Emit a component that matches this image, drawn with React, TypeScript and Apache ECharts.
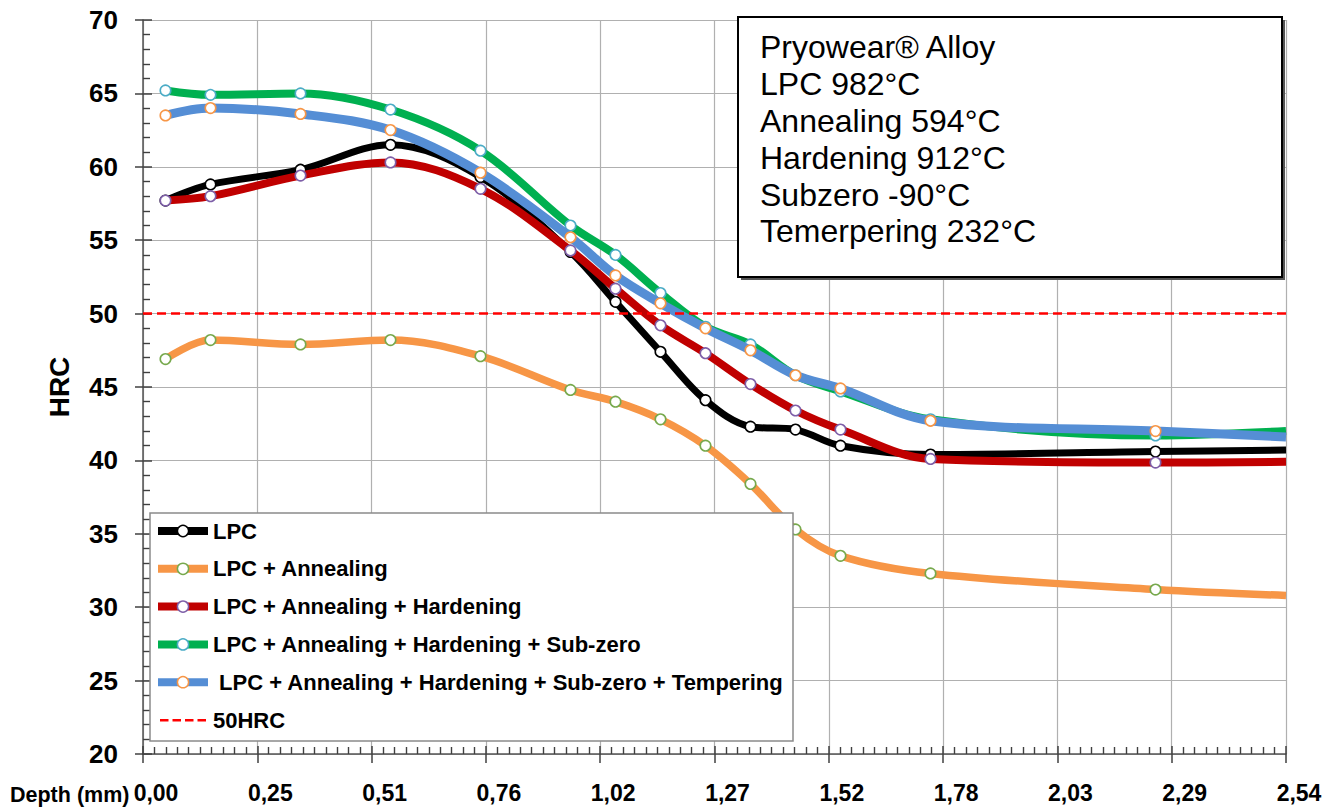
import React, { useEffect, useRef } from "react";
import * as echarts from "echarts";

const depth = [0.05, 0.15, 0.35, 0.55, 0.75, 0.95, 1.05, 1.15, 1.25, 1.35, 1.45, 1.55, 1.75, 2.25, 2.54];
const lpc = [57.7, 58.8, 59.8, 61.5, 59.3, 54.2, 50.8, 47.4, 44.1, 42.3, 42.1, 41.0, 40.4, 40.6, 40.7];
const annealing = [46.9, 48.2, 47.9, 48.2, 47.1, 44.8, 44.0, 42.8, 41.0, 38.4, 35.3, 33.5, 32.3, 31.2, 30.8];
const hardening = [57.7, 58.0, 59.4, 60.3, 58.5, 54.3, 51.7, 49.2, 47.3, 45.2, 43.4, 42.1, 40.1, 39.85, 39.9];
const subzero = [65.2, 64.9, 65.0, 63.9, 61.1, 56.0, 54.0, 51.4, 49.1, 47.9, 45.8, 44.7, 42.8, 41.7, 42.0];
const tempering = [63.5, 64.0, 63.6, 62.5, 59.6, 55.2, 52.6, 50.7, 49.0, 47.5, 45.8, 44.9, 42.7, 42.0, 41.6];
const limitX = [0, 2.54];
const limitY = [50, 50];

const seriesNames = [
  "LPC",
  "LPC + Annealing",
  "LPC + Annealing + Hardening",
  "LPC + Annealing + Hardening + Sub-zero",
  "LPC + Annealing + Hardening + Sub-zero + Tempering",
];
const limitName = "50HRC";
const lineColors = ["#000000", "#F79646", "#C00000", "#00B050", "#558ED5"];
const markerBorders = ["#000000", "#77A94D", "#7E5FA8", "#4BACC6", "#F79646"];
const lineWidths = [7, 7.5, 8, 8, 9];
const allValues = [lpc, annealing, hardening, subzero, tempering];

const annotation = [
  "Pryowear® Alloy",
  "LPC 982°C",
  "Annealing 594°C",
  "Hardening 912°C",
  "Subzero -90°C",
  "Temerpering 232°C",
];

const FONT = "'Liberation Sans', Arial, Helvetica, sans-serif";
const fmtX = (v: number) => v.toFixed(2).replace(".", ",");

export default function App() {
  const ref = useRef<HTMLDivElement>(null);
  useEffect(() => {
    if (!ref.current) return;
    const chart = echarts.init(ref.current, undefined, { renderer: "svg" });

    const series: any[] = allValues.map((vals, si) => ({
      name: seriesNames[si],
      type: "line",
      xAxisIndex: 0,
      yAxisIndex: 0,
      smooth: 0.35,
      symbol: "circle",
      symbolSize: 10.5,
      silent: true,
      z: 2 + si * 0.1,
      lineStyle: { color: lineColors[si], width: lineWidths[si] },
      itemStyle: { color: "#ffffff", borderColor: markerBorders[si], borderWidth: 1.6 },
      data: depth.map((d, i) =>
        i === depth.length - 1 ? { value: [d, vals[i]], symbol: "none" } : [d, vals[i]]
      ),
    }));
    series.push({
      name: limitName,
      type: "line",
      xAxisIndex: 0,
      yAxisIndex: 0,
      symbol: "none",
      silent: true,
      z: 3,
      lineStyle: { color: "#FF0000", width: 2.5, type: [9, 5] },
      itemStyle: { color: "#FF0000" },
      data: limitX.map((x, i) => [x, limitY[i]]),
    });

    const legendData: any[] = seriesNames.map((n, si) => ({
      name: n,
      itemStyle: { color: "#ffffff", borderColor: markerBorders[si], borderWidth: 1.5 },
      lineStyle: { color: lineColors[si], width: 8 },
    }));
    legendData.push({
      name: limitName,
      icon: "path://M0,0 M50,14 M2,6h8.5v2.6h-8.5z M14.5,6h8.5v2.6h-8.5z M27,6h8.5v2.6h-8.5z M39.5,6h8.5v2.6h-8.5z",
      itemStyle: { color: "#FF0000", borderWidth: 0 },
    });

    const tickLine = { color: "#404040", width: 1.5 };
    const minorLine = { color: "#404040", width: 1.4 };

    chart.setOption({
      animation: false,
      backgroundColor: "#ffffff",
      grid: { left: 143, right: 50, top: 20, bottom: 53, containLabel: false },
      xAxis: [
        {
          type: "value",
          min: 0,
          max: 2.54,
          interval: 0.254,
          position: "bottom",
          axisLine: { show: true, onZero: false, lineStyle: { color: "#555", width: 1.5 } },
          axisTick: { show: true, inside: true, length: 8, lineStyle: tickLine },
          minorTick: { show: true, splitNumber: 10, length: 7, lineStyle: minorLine },
          splitLine: { show: true, lineStyle: { color: "#b0b0b0", width: 1.2 } },
          axisLabel: {
            formatter: fmtX,
            fontFamily: FONT,
            fontSize: 23,
            fontWeight: "bold",
            color: "#000",
            margin: 27,
            padding: [0, 0, 0, 26],
            showMinLabel: true,
            showMaxLabel: true,
          },
        },
        {
          type: "value",
          min: 0,
          max: 2.54,
          interval: 0.254,
          position: "bottom",
          axisLine: { show: false, onZero: false },
          axisLabel: { show: false },
          splitLine: { show: false },
          axisTick: { show: true, inside: false, length: 9, lineStyle: tickLine },
        },
      ],
      yAxis: [
        {
          type: "value",
          min: 20,
          max: 70,
          interval: 5,
          position: "left",
          name: "HRC",
          nameLocation: "middle",
          nameGap: 70,
          nameTextStyle: { fontFamily: FONT, fontSize: 28, fontWeight: "bold", color: "#000" },
          axisLine: { show: true, onZero: false, lineStyle: { color: "#555", width: 1.5 } },
          axisTick: { show: true, inside: true, length: 9, lineStyle: tickLine },
          minorTick: { show: true, splitNumber: 5, length: 7, lineStyle: minorLine },
          splitLine: { show: true, lineStyle: { color: "#b0b0b0", width: 1.2 } },
          axisLabel: {
            fontFamily: FONT,
            fontSize: 26,
            fontWeight: "bold",
            color: "#000",
            margin: 25,
          },
        },
        {
          type: "value",
          min: 20,
          max: 70,
          interval: 5,
          position: "left",
          axisLine: { show: false, onZero: false },
          axisLabel: { show: false },
          splitLine: { show: false },
          axisTick: { show: true, inside: false, length: 8, lineStyle: tickLine },
        },
      ],
      legend: {
        orient: "vertical",
        left: 154,
        top: 520,
        padding: 0,
        z: 10,
        itemWidth: 50,
        itemHeight: 14,
        itemGap: 15.8,
        selectedMode: false,
        formatter: (name: string) => (name === seriesNames[4] ? "\u00a0" + name : name),
        textStyle: { fontFamily: FONT, fontSize: 22, fontWeight: "bold", color: "#000" },
        data: legendData,
      },
      graphic: [
        {
          type: "rect",
          z: 8,
          silent: true,
          shape: { x: 150, y: 513, width: 643, height: 228 },
          style: { fill: "#ffffff", stroke: "#8a8a8a", lineWidth: 1.5 },
        },
        {
          type: "rect",
          z: 8,
          silent: true,
          shape: { x: 741, y: 20, width: 544, height: 260 },
          style: { fill: "#555555" },
        },
        {
          type: "rect",
          z: 9,
          silent: true,
          shape: { x: 738, y: 17, width: 544, height: 260 },
          style: { fill: "#ffffff", stroke: "#000000", lineWidth: 2 },
        },
        {
          type: "text",
          z: 10,
          silent: true,
          x: 760,
          y: 29,
          style: {
            text: annotation.join("\n"),
            fontFamily: FONT,
            fontSize: 32,
            lineHeight: 36.8,
            fill: "#000",
          },
        },
        {
          type: "text",
          z: 10,
          silent: true,
          x: 10,
          y: 795,
          style: {
            text: "Depth (mm)",
            fontFamily: FONT,
            fontSize: 21.5,
            fontWeight: "bold",
            fill: "#000",
            verticalAlign: "middle",
          },
        },
      ],
      series,
    });
    return () => chart.dispose();
  }, []);
  return <div ref={ref} style={{ position: "fixed", left: 0, top: 0, width: 1336, height: 807 }} />;
}
